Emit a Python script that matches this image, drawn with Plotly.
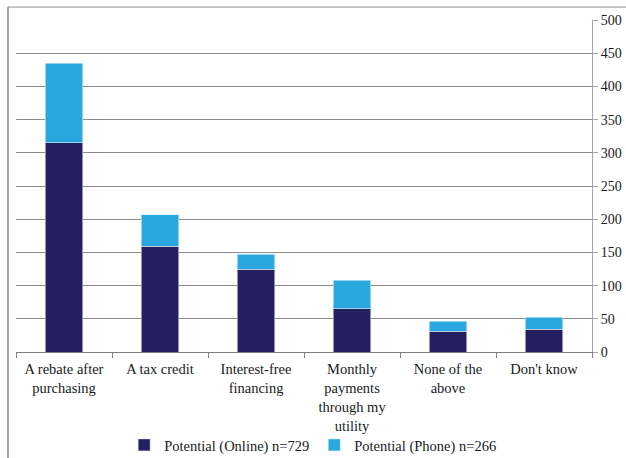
import plotly.graph_objects as go

categories = ["A rebate after<br>purchasing", "A tax credit", "Interest-free<br>financing",
              "Monthly<br>payments<br>through my<br>utility", "None of the<br>above", "Don't know"]
online = [315, 159, 125, 65, 31, 34]
phone = [120, 48, 22, 43, 15, 18]
series_names = ["Potential (Online) n=729", "Potential (Phone) n=266"]
y_ticks = [0, 50, 100, 150, 200, 250, 300, 350, 400, 450, 500]

font = dict(family="Liberation Serif, Times New Roman, serif", size=14.5, color="#1A1A1A")

fig = go.Figure()
fig.add_trace(go.Bar(x=categories, y=online, name=series_names[0],
                     marker=dict(color="#241F5E", line=dict(color="#D8E0F0", width=0.6))))
fig.add_trace(go.Bar(x=categories, y=phone, name=series_names[1],
                     marker=dict(color="#29A8E0", line=dict(color="#D8EEF8", width=0.6))))

fig.update_layout(
    width=626, height=458,
    barmode="stack", bargap=0.61,
    plot_bgcolor="white", paper_bgcolor="white",
    margin=dict(l=16, r=34, t=20, b=106, autoexpand=False),
    font=font,
    legend=dict(orientation="h", x=0.515, xanchor="center", y=-0.28, yanchor="middle",
                font=dict(size=14.5), itemwidth=30, traceorder="normal",
                bgcolor="rgba(0,0,0,0)"),
    xaxis=dict(showline=True, linecolor="#7F7F7F", linewidth=1,
               ticks="outside", tickson="boundaries", ticklen=5, tickcolor="#7F7F7F",
               showgrid=False, tickfont=dict(size=14.5), ticklabelstandoff=4),
    yaxis=dict(side="right", range=[0, 500], tickvals=y_ticks, showline=True,
               linecolor="#A6A6A6", linewidth=1, ticks="outside", ticklen=5,
               tickcolor="#A6A6A6", showgrid=True, gridcolor="#8C8C8C", gridwidth=1,
               zeroline=False, tickfont=dict(size=14)),
    shapes=[
        dict(type="line", xref="paper", yref="paper", x0=-0.0139, x1=1.1, y0=1.039, y1=1.039,
             line=dict(color="#8C8C8C", width=1)),
        dict(type="line", xref="paper", yref="paper", x0=-0.0139, x1=-0.0139, y0=1.039, y1=-0.35,
             line=dict(color="#8C8C8C", width=1.5)),
    ],
)

fig.write_html("out.html", config={"displayModeBar": False},
               post_script="document.body.style.margin='0px';document.body.style.overflow='hidden';")
